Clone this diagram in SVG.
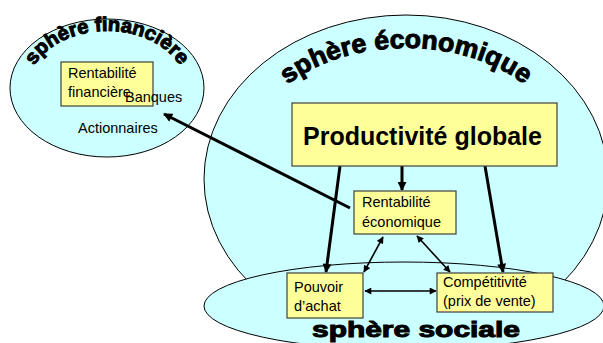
<svg xmlns="http://www.w3.org/2000/svg" width="603" height="343" viewBox="0 0 603 343">
<style>
.sph{fill:#CCFFFF;stroke:#000;stroke-width:1}
.box{fill:#FFFF99;stroke:#404040;stroke-width:1.2}
.t{font-family:"Liberation Sans",Arial,sans-serif;font-size:14.5px;fill:#000}
.big{font-family:"Liberation Sans",Arial,sans-serif;font-size:25px;font-weight:bold;fill:#000}
.wa{font-family:"Liberation Sans",Arial,sans-serif;font-weight:bold;fill:#000;stroke:#000;stroke-width:1}
.thick{stroke:#000;stroke-width:3;fill:none}
.thin{stroke:#000;stroke-width:1.6;fill:none}
</style>
<defs>
<marker id="ah" viewBox="0 0 10 10" refX="9" refY="5" markerWidth="10" markerHeight="9" markerUnits="userSpaceOnUse" orient="auto-start-reverse"><path d="M0,0 L10,5 L0,10 z" fill="#000"/></marker>
<marker id="ahs" viewBox="0 0 10 10" refX="9" refY="5" markerWidth="8" markerHeight="7" markerUnits="userSpaceOnUse" orient="auto-start-reverse"><path d="M0,0 L10,5 L0,10 z" fill="#000"/></marker>
<path id="arcF" d="M28,88 A79 57 0 0 1 186 88"/>
<path id="arcE" d="M253,148 A153 100 0 0 1 559 148"/>
</defs>

<g id="sphere-economique">
<ellipse class="sph" cx="406" cy="179" rx="202" ry="164"/>
<text class="wa" font-size="26"><textPath href="#arcE" startOffset="50%" text-anchor="middle" textLength="252" lengthAdjust="spacingAndGlyphs">sphère économique</textPath></text>
</g>
<g id="sphere-sociale">
<ellipse class="sph" cx="404" cy="306" rx="200" ry="44"/>
<text class="wa" font-size="22" x="312" y="337" textLength="208" lengthAdjust="spacingAndGlyphs">sphère sociale</text>
</g>
<g id="sphere-financiere">
<ellipse class="sph" cx="107" cy="88" rx="97" ry="69"/>
<text class="wa" font-size="20"><textPath href="#arcF" startOffset="50%" text-anchor="middle" textLength="168" lengthAdjust="spacingAndGlyphs">sphère financière</textPath></text>
</g>

<g id="connectors">
<line class="thick" x1="350" y1="208" x2="164" y2="114" marker-end="url(#ah)"/>
<line class="thick" x1="402" y1="166" x2="402" y2="190" marker-end="url(#ah)"/>
<line class="thick" x1="340" y1="166" x2="326" y2="272" marker-end="url(#ah)"/>
<line class="thick" x1="485" y1="166" x2="503" y2="272" marker-end="url(#ah)"/>
<line class="thin" x1="383" y1="237" x2="364" y2="272" marker-start="url(#ahs)" marker-end="url(#ahs)"/>
<line class="thin" x1="417" y1="236" x2="450" y2="272" marker-start="url(#ahs)" marker-end="url(#ahs)"/>
<line class="thin" x1="365" y1="291" x2="436" y2="291" marker-start="url(#ahs)" marker-end="url(#ahs)"/>
</g>

<g id="rentabilite-financiere">
<rect class="box" x="61" y="62" width="92" height="44"/>
<text class="t" x="68" y="78">Rentabilité</text>
<text class="t" x="68" y="97">financière</text>
</g>
<g id="banques"><text class="t" x="125" y="102">Banques</text></g>
<g id="actionnaires"><text class="t" x="78" y="133">Actionnaires</text></g>

<g id="productivite-globale">
<rect class="box" x="292" y="103" width="265" height="63"/>
<text class="big" x="303" y="145">Productivité globale</text>
</g>
<g id="rentabilite-economique">
<rect class="box" x="354" y="191" width="102" height="43"/>
<text class="t" x="362" y="207">Rentabilité</text>
<text class="t" x="362" y="227">économique</text>
</g>
<g id="pouvoir-achat">
<rect class="box" x="287" y="273" width="76" height="45"/>
<text class="t" x="294" y="292">Pouvoir</text>
<text class="t" x="294" y="311">d’achat</text>
</g>
<g id="competitivite">
<rect class="box" x="437" y="273" width="116" height="39"/>
<text class="t" x="443" y="287">Compétitivité</text>
<text class="t" x="443" y="306">(prix de vente)</text>
</g>
</svg>
